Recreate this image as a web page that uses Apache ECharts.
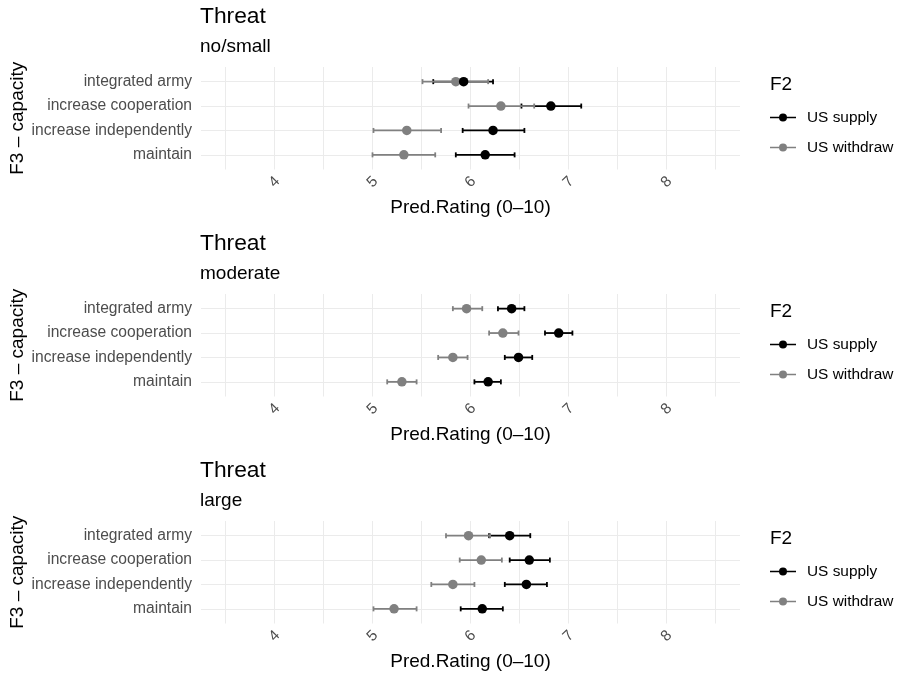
<!DOCTYPE html>
<html>
<head>
<meta charset="utf-8">
<script src="https://cdn.jsdelivr.net/npm/echarts@6/dist/echarts.min.js"></script>
<style>
  html, body { margin: 0; padding: 0; background: #ffffff; }
  #chart { width: 902px; height: 675px; }
</style>
</head>
<body>
<div id="chart"></div>
<script>
// Predicted ratings (0–10) by capacity option, US stance and threat level.
const threatLevels = ['no/small', 'moderate', 'large'];
const capacities = ['integrated army', 'increase cooperation', 'increase independently', 'maintain'];
const stances = ['US supply', 'US withdraw'];

// x-axis labels and vertical grid positions
const xTickLabels = [4, 5, 6, 7, 8];
const xGridValues = [3.5, 4, 4.5, 5, 5.5, 6, 6.5, 7, 7.5, 8, 8.5];

// Threat: no/small  (order follows `capacities`)
const noSmallSupplyMean = [5.93, 6.82, 6.23, 6.15];
const noSmallSupplyLow = [5.62, 6.52, 5.92, 5.85];
const noSmallSupplyHigh = [6.23, 7.13, 6.55, 6.45];
const noSmallWithdrawMean = [5.85, 6.31, 5.35, 5.32];
const noSmallWithdrawLow = [5.51, 5.98, 5.01, 5.00];
const noSmallWithdrawHigh = [6.18, 6.65, 5.70, 5.64];

// Threat: moderate
const moderateSupplyMean = [6.42, 6.90, 6.49, 6.18];
const moderateSupplyLow = [6.28, 6.76, 6.35, 6.04];
const moderateSupplyHigh = [6.55, 7.04, 6.63, 6.31];
const moderateWithdrawMean = [5.96, 6.33, 5.82, 5.30];
const moderateWithdrawLow = [5.82, 6.19, 5.67, 5.15];
const moderateWithdrawHigh = [6.12, 6.49, 5.97, 5.45];

// Threat: large
const largeSupplyMean = [6.40, 6.60, 6.57, 6.12];
const largeSupplyLow = [6.19, 6.40, 6.35, 5.90];
const largeSupplyHigh = [6.61, 6.81, 6.78, 6.33];
const largeWithdrawMean = [5.98, 6.11, 5.82, 5.22];
const largeWithdrawLow = [5.75, 5.89, 5.60, 5.01];
const largeWithdrawHigh = [6.20, 6.32, 6.04, 5.45];

const panels = [
  { supply: [noSmallSupplyMean, noSmallSupplyLow, noSmallSupplyHigh],
    withdraw: [noSmallWithdrawMean, noSmallWithdrawLow, noSmallWithdrawHigh] },
  { supply: [moderateSupplyMean, moderateSupplyLow, moderateSupplyHigh],
    withdraw: [moderateWithdrawMean, moderateWithdrawLow, moderateWithdrawHigh] },
  { supply: [largeSupplyMean, largeSupplyLow, largeSupplyHigh],
    withdraw: [largeWithdrawMean, largeWithdrawLow, largeWithdrawHigh] }
];

const COLORS = { 'US supply': '#000000', 'US withdraw': '#808080' };
const FONT = "'Liberation Sans', Arial, Helvetica, sans-serif";
const PANEL_STEP = 227;
const PLOT_LEFT = 201;
const PLOT_TOP = 67;
const PLOT_W = 539;
const PLOT_H = 102.5;
const GRID_COLOR = '#ebebeb';

// capacities listed top to bottom -> y positions 4..1
const yPos = (i) => capacities.length - i;

function errorBarRender(params, api) {
  const y = api.value(2);
  const a = api.coord([api.value(0), y]);
  const b = api.coord([api.value(1), y]);
  const capH = 2.5;
  const style = { stroke: api.visual('color'), lineWidth: 1.8 };
  return {
    type: 'group',
    children: [
      { type: 'line', shape: { x1: a[0], y1: a[1], x2: b[0], y2: b[1] }, style },
      { type: 'line', shape: { x1: a[0], y1: a[1] - capH, x2: a[0], y2: a[1] + capH }, style },
      { type: 'line', shape: { x1: b[0], y1: b[1] - capH, x2: b[0], y2: b[1] + capH }, style }
    ]
  };
}

const grids = [], xAxes = [], yAxes = [], series = [], titles = [], legends = [];

panels.forEach((panel, p) => {
  const off = p * PANEL_STEP;
  grids.push({
    left: PLOT_LEFT, top: PLOT_TOP + off, width: PLOT_W, height: PLOT_H,
    containLabel: false, outerBoundsMode: 'none'
  });

  xAxes.push({
    gridIndex: p, type: 'value', min: 3.25, max: 8.75,
    name: 'Pred.Rating (0–10)', nameLocation: 'middle', nameGap: 28.5,
    nameTextStyle: { fontFamily: FONT, fontSize: 19, color: '#000' },
    axisLine: { show: false },
    axisTick: { show: false, customValues: xGridValues },
    splitLine: { show: true, lineStyle: { color: GRID_COLOR, width: 1 } },
    axisLabel: {
      customValues: xTickLabels, rotate: 45, align: 'center', verticalAlign: 'middle', margin: 12.5,
      fontFamily: FONT, fontSize: 15.2, color: '#4d4d4d'
    }
  });

  yAxes.push({
    gridIndex: p, type: 'value', min: 0.4, max: 4.6,
    name: 'F3 – capacity', nameLocation: 'middle', nameGap: 174, nameMoveOverlap: false,
    nameTextStyle: { fontFamily: FONT, fontSize: 19, color: '#000' },
    axisLine: { show: false },
    axisTick: { show: false, customValues: [1, 2, 3, 4] },
    splitLine: { show: true, lineStyle: { color: GRID_COLOR, width: 1 } },
    axisLabel: {
      customValues: [1, 2, 3, 4], margin: 9,
      formatter: (v) => capacities[capacities.length - Math.round(v)],
      fontFamily: FONT, fontSize: 15.6, color: '#4d4d4d'
    }
  });

  const barData = (set) => capacities.map((c, i) => [set[1][i], set[2][i], yPos(i)]);
  const ptData = (set) => capacities.map((c, i) => [set[0][i], yPos(i)]);

  // error bars: supply underneath, withdraw above
  series.push({
    name: 'US supply', type: 'custom', xAxisIndex: p, yAxisIndex: p, z: 2,
    color: COLORS['US supply'], renderItem: errorBarRender,
    encode: { x: [0, 1], y: 2 }, data: barData(panel.supply), silent: true
  });
  series.push({
    name: 'US withdraw', type: 'custom', xAxisIndex: p, yAxisIndex: p, z: 3,
    color: COLORS['US withdraw'], renderItem: errorBarRender,
    encode: { x: [0, 1], y: 2 }, data: barData(panel.withdraw), silent: true
  });
  // point estimates
  series.push({
    name: 'US withdraw', type: 'scatter', xAxisIndex: p, yAxisIndex: p, z: 4,
    symbol: 'circle', symbolSize: 9.5, color: COLORS['US withdraw'],
    itemStyle: { opacity: 1 }, data: ptData(panel.withdraw), silent: true
  });
  series.push({
    name: 'US supply', type: 'scatter', xAxisIndex: p, yAxisIndex: p, z: 5,
    symbol: 'circle', symbolSize: 9.5, color: COLORS['US supply'],
    itemStyle: { opacity: 1 }, data: ptData(panel.supply), silent: true
  });

  titles.push({
    text: 'Threat', left: PLOT_LEFT - 1, top: 5 + off, padding: 0,
    textStyle: { fontFamily: FONT, fontSize: 22.8, fontWeight: 'normal', color: '#000' }
  });
  titles.push({
    text: threatLevels[p], left: PLOT_LEFT - 1, top: 37.5 + off, padding: 0,
    textStyle: { fontFamily: FONT, fontSize: 19, fontWeight: 'normal', color: '#000' }
  });
  titles.push({
    text: 'F2', left: 770, top: 75 + off, padding: 0,
    textStyle: { fontFamily: FONT, fontSize: 19, fontWeight: 'normal', color: '#000' }
  });

  legends.push({
    orient: 'vertical', left: 770, top: 109.5 + off, padding: 0,
    itemWidth: 26, itemHeight: 8, itemGap: 14,
    selectedMode: false,
    icon: 'path://M0,3.2H26V4.8H0Z M17,4A4,4 0 1 1 9,4A4,4 0 1 1 17,4Z',
    textStyle: { fontFamily: FONT, fontSize: 15.4, color: '#000', lineHeight: 16, padding: [0, 0, 0, 6] },
    data: stances.map((s) => ({ name: s, itemStyle: { color: COLORS[s] } }))
  });
});

const chart = echarts.init(document.getElementById('chart'), null, { renderer: 'canvas' });
chart.setOption({
  animation: false,
  backgroundColor: '#ffffff',
  title: titles,
  legend: legends,
  grid: grids,
  xAxis: xAxes,
  yAxis: yAxes,
  series: series
});
</script>
</body>
</html>
